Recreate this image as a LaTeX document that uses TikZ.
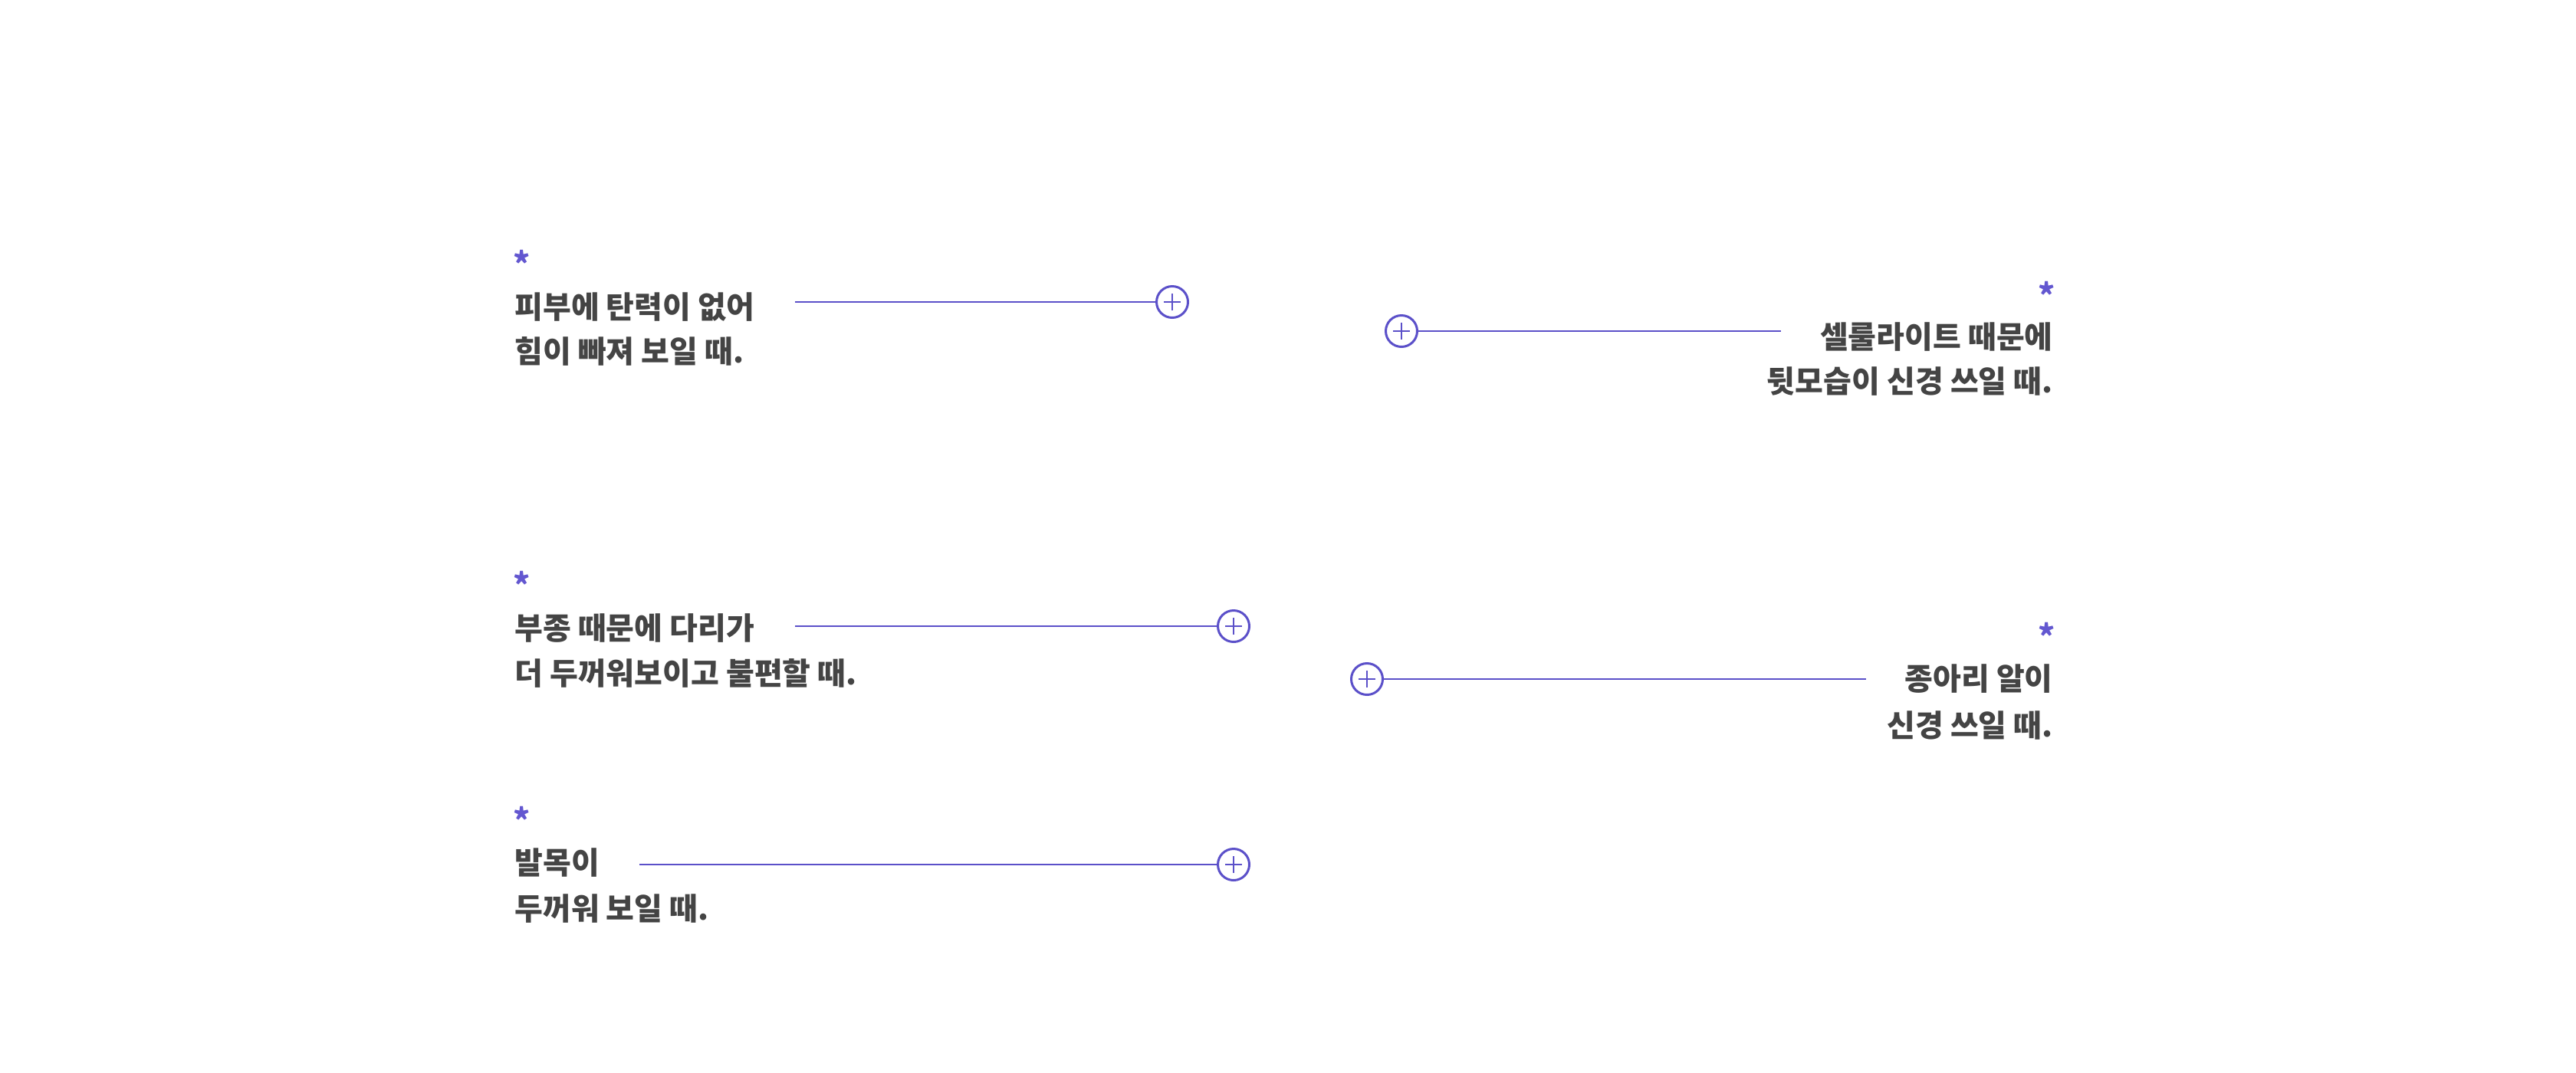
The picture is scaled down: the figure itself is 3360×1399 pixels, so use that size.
\documentclass[tikz,border=0pt]{standalone}
\usepackage{fontspec}
\usetikzlibrary{positioning, calc}
\newfontfamily\krfont{Noto Sans CJK KR}
\definecolor{lgpurple}{HTML}{5B50C9}
\definecolor{lgstar}{HTML}{6357D0}
\definecolor{lgtext}{HTML}{444444}

\begin{document}
\begin{tikzpicture}[
  x=0.5pt, y=-0.5pt,
  every node/.style={font=\krfont\bfseries\fontsize{20pt}{29pt}\selectfont, text=lgtext, inner sep=0pt},
  caption/.style={anchor=#1},
  star/.style={anchor=north, text=lgstar, font=\krfont\bfseries\fontsize{21pt}{21pt}\selectfont},
  plusdot/.style={circle, draw=lgpurple, line width=1.5pt, minimum size=20.5pt,
    path picture={\draw[lgpurple, line width=1.2pt]
      ($(path picture bounding box.center)+(-5.5pt,0)$) -- ++(11pt,0)
      ($(path picture bounding box.center)+(0,-5.5pt)$) -- ++(0,11pt);}},
  leader/.style={draw=lgpurple, line width=1pt},
]
\useasboundingbox (0,0) rectangle (3360,1399);

% left column
\node[star] (s1) at (681,326) {*};
\node[caption=west] (t1a) at (671,401) {피부에 탄력이 없어};
\node[caption=west] (t1b) at (671,458) {힘이 빠져 보일 때.};
\node[plusdot] (p1) at (1529,394) {};
\coordinate (c1) at (1037,394);
\draw[leader] (c1) -- (p1.west);

\node[star] (s3) at (681,745) {*};
\node[caption=west] (t3a) at (671,820) {부종 때문에 다리가};
\node[caption=west] (t3b) at (671,878) {더 두꺼워보이고 불편할 때.};
\node[plusdot] (p3) at (1609,817) {};
\coordinate (c3) at (1037,817);
\draw[leader] (c3) -- (p3.west);

\node[star] (s4) at (681,1052) {*};
\node[caption=west] (t4a) at (671,1126) {발목이};
\node[caption=west] (t4b) at (671,1185) {두꺼워 보일 때.};
\node[plusdot] (p4) at (1609,1128) {};
\coordinate (c4) at (834,1128);
\draw[leader] (c4) -- (p4.west);

% right column
\node[star] (s2) at (2670,367) {*};
\node[caption=east] (t2a) at (2678,440) {셀룰라이트 때문에};
\node[caption=east] (t2b) at (2678,498) {뒷모습이 신경 쓰일 때.};
\node[plusdot] (p2) at (1828,432) {};
\coordinate (c2) at (2323,432);
\draw[leader] (p2.east) -- (c2);

\node[star] (s5) at (2670,812) {*};
\node[caption=east] (t5a) at (2678,886) {종아리 알이};
\node[caption=east] (t5b) at (2678,946) {신경 쓰일 때.};
\node[plusdot] (p5) at (1783,886) {};
\coordinate (c5) at (2434,886);
\draw[leader] (p5.east) -- (c5);

\end{tikzpicture}
\end{document}
